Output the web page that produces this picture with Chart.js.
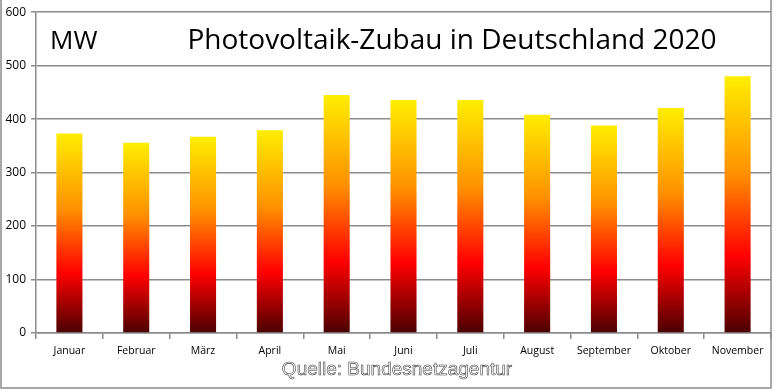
<!DOCTYPE html>
<html>
<head>
<meta charset="utf-8">
<script src="https://cdn.jsdelivr.net/npm/chart.js@4.4.0/dist/chart.umd.min.js"></script>
<style>
  html, body { margin: 0; padding: 0; background: #fff; }
  #wrap { width: 776px; height: 392px; position: relative; }
</style>
</head>
<body>
<div id="wrap"><canvas id="myChart"></canvas></div>
<script>
'use strict';
let months = ['Januar', 'Februar', 'März', 'April', 'Mai', 'Juni', 'Juli', 'August', 'September', 'Oktober', 'November'];
let zubauMW = [373, 356, 367, 379, 445, 436, 436, 408, 388, 421, 480];
let yTicks = [0, 100, 200, 300, 400, 500, 600];

let titleText = 'Photovoltaik-Zubau in Deutschland 2020';
let unitText = 'MW';
let sourceText = 'Quelle: Bundesnetzagentur';

function barGradient(context) {
  let chart = context.chart;
  let yScale = chart.scales.y;
  if (!yScale || !chart.chartArea) return '#ff0000';
  let top = yScale.getPixelForValue(context.raw);
  let base = yScale.getPixelForValue(0);
  let g = chart.ctx.createLinearGradient(0, base, 0, top);
  g.addColorStop(0, '#4a0000');
  g.addColorStop(0.3, '#ff0000');
  g.addColorStop(0.62, '#ff9000');
  g.addColorStop(1, '#ffee00');
  return g;
}

// title, unit, source and outer frame
const extraText = {
  id: 'extraText',
  afterDraw(chart) {
    let c = chart.ctx;
    c.save();
    c.fillStyle = '#000';
    c.textBaseline = 'alphabetic';
    c.font = '26px "Open Sans"';
    c.textAlign = 'left';
    c.fillText(unitText, 50, 49);
    c.font = '28px "Open Sans"';
    c.textAlign = 'center';
    c.fillText(titleText, 452, 49);

    c.font = '19px "Liberation Sans"';
    c.lineWidth = 0.6;
    c.strokeStyle = '#444';
    c.fillStyle = '#fff';
    c.fillText(sourceText, 397, 375);
    c.strokeText(sourceText, 397, 375);

    c.strokeStyle = '#8c8c8c';
    c.lineWidth = 1.5;
    c.strokeRect(1, -2, 770, 390);
    c.restore();
  }
};

var ctx = document.getElementById('myChart').getContext('2d');
var myChart = new Chart(ctx, {
  type: 'bar',
  data: {
    labels: months,
    datasets: [{
      label: 'Zubau',
      data: zubauMW,
      backgroundColor: barGradient,
      borderWidth: 0,
      categoryPercentage: 1,
      barPercentage: 0.39
    }]
  },
  options: {
    responsive: true,
    maintainAspectRatio: false,
    animation: false,
    layout: { padding: { top: 8, right: 5, left: 0, bottom: 0 } },
    plugins: {
      legend: { display: false },
      tooltip: { enabled: false }
    },
    scales: {
      x: {
        offset: true,
        grid: {
          offset: true,
          drawOnChartArea: false,
          color: '#8c8c8c',
          lineWidth: 1.5,
          tickLength: 6
        },
        border: { color: '#8c8c8c', width: 1.5 },
        ticks: {
          color: '#000',
          font: { family: 'Open Sans', size: 10.5 },
          padding: 6,
          maxRotation: 0,
          autoSkip: false
        },
        afterFit(scale) { scale.height = 59; }
      },
      y: {
        min: 0,
        max: 600,
        afterBuildTicks(scale) { scale.ticks = yTicks.map(v => ({ value: v })); },
        grid: {
          color: '#8c8c8c',
          lineWidth: 1.5,
          tickLength: 5
        },
        border: { color: '#8c8c8c', width: 1.5 },
        ticks: {
          color: '#000',
          font: { family: 'Open Sans', size: 12 },
          padding: 5
        },
        afterFit(scale) { scale.width = 36; }
      }
    }
  },
  plugins: [extraText]
});
</script>
</body>
</html>
